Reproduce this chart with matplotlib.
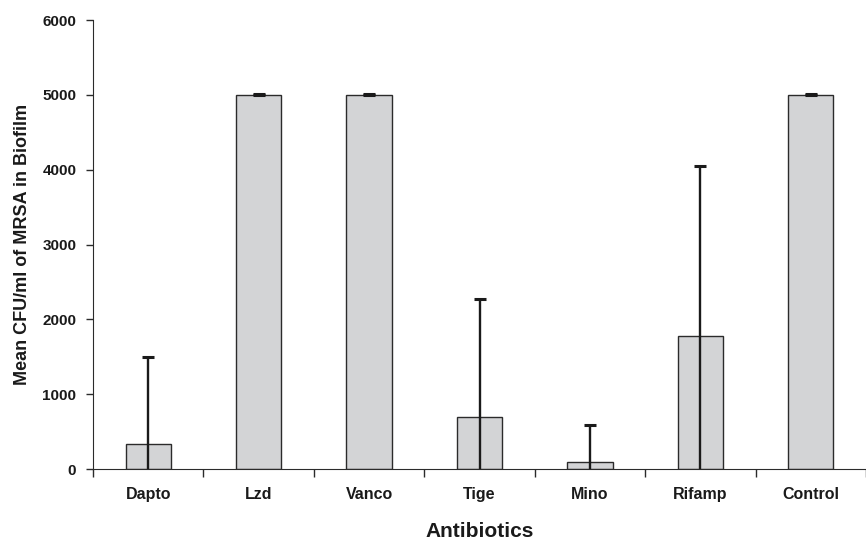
import numpy as np
import matplotlib.pyplot as plt

plt.rcParams['font.family'] = ['Liberation Sans', 'DejaVu Sans']

antibiotics = ['Dapto', 'Lzd', 'Vanco', 'Tige', 'Mino', 'Rifamp', 'Control']
mean_cfu = [335, 5000, 5000, 695, 94, 1780, 5000]
sd_cfu = [1165, 8, 8, 1580, 494, 2270, 8]

x = np.arange(len(antibiotics))

fig = plt.figure(figsize=(8.66, 5.41), dpi=100)
ax = fig.add_axes([0.1074, 0.133, 0.8926, 0.830])

ax.bar(x, mean_cfu, width=0.41, color='#d3d4d6', edgecolor='#2b2b2b', linewidth=1.0, zorder=2)
ax.errorbar(x, mean_cfu, yerr=sd_cfu, fmt='none', ecolor='#1a1a1a', elinewidth=1.7,
            capsize=4.3, capthick=2.2, zorder=3)

ax.set_ylim(0, 6000)
ax.set_xlim(-0.5, 6.47)
ax.set_yticks(np.arange(0, 6001, 1000))

# category boundaries get the tick marks, centres get the labels
ax.set_xticks(np.arange(-0.5, 7, 1.0))
ax.set_xticklabels([])
ax.set_xticks(x, minor=True)
ax.set_xticklabels(antibiotics, minor=True, fontsize=11.5, fontweight='bold', color='#1a1a1a')
ax.tick_params(axis='x', which='major', direction='out', length=6, width=1, color='#2b2b2b')
ax.tick_params(axis='x', which='minor', length=0, pad=13)
ax.tick_params(axis='y', direction='out', length=5, width=1, color='#2b2b2b',
               labelsize=11, pad=7)
for lab in ax.get_yticklabels():
    lab.set_fontweight('bold')
    lab.set_color('#1a1a1a')

ax.spines['top'].set_visible(False)
ax.spines['right'].set_visible(False)
ax.spines['left'].set_color('#2b2b2b')
ax.spines['bottom'].set_color('#2b2b2b')

ax.set_ylabel('Mean CFU/ml of MRSA in Biofilm', fontsize=13, fontweight='bold',
              color='#1a1a1a', labelpad=8)
ax.set_xlabel('Antibiotics', fontsize=15, fontweight='bold', color='#1a1a1a', labelpad=14)

fig.savefig('out.png', dpi=100)
